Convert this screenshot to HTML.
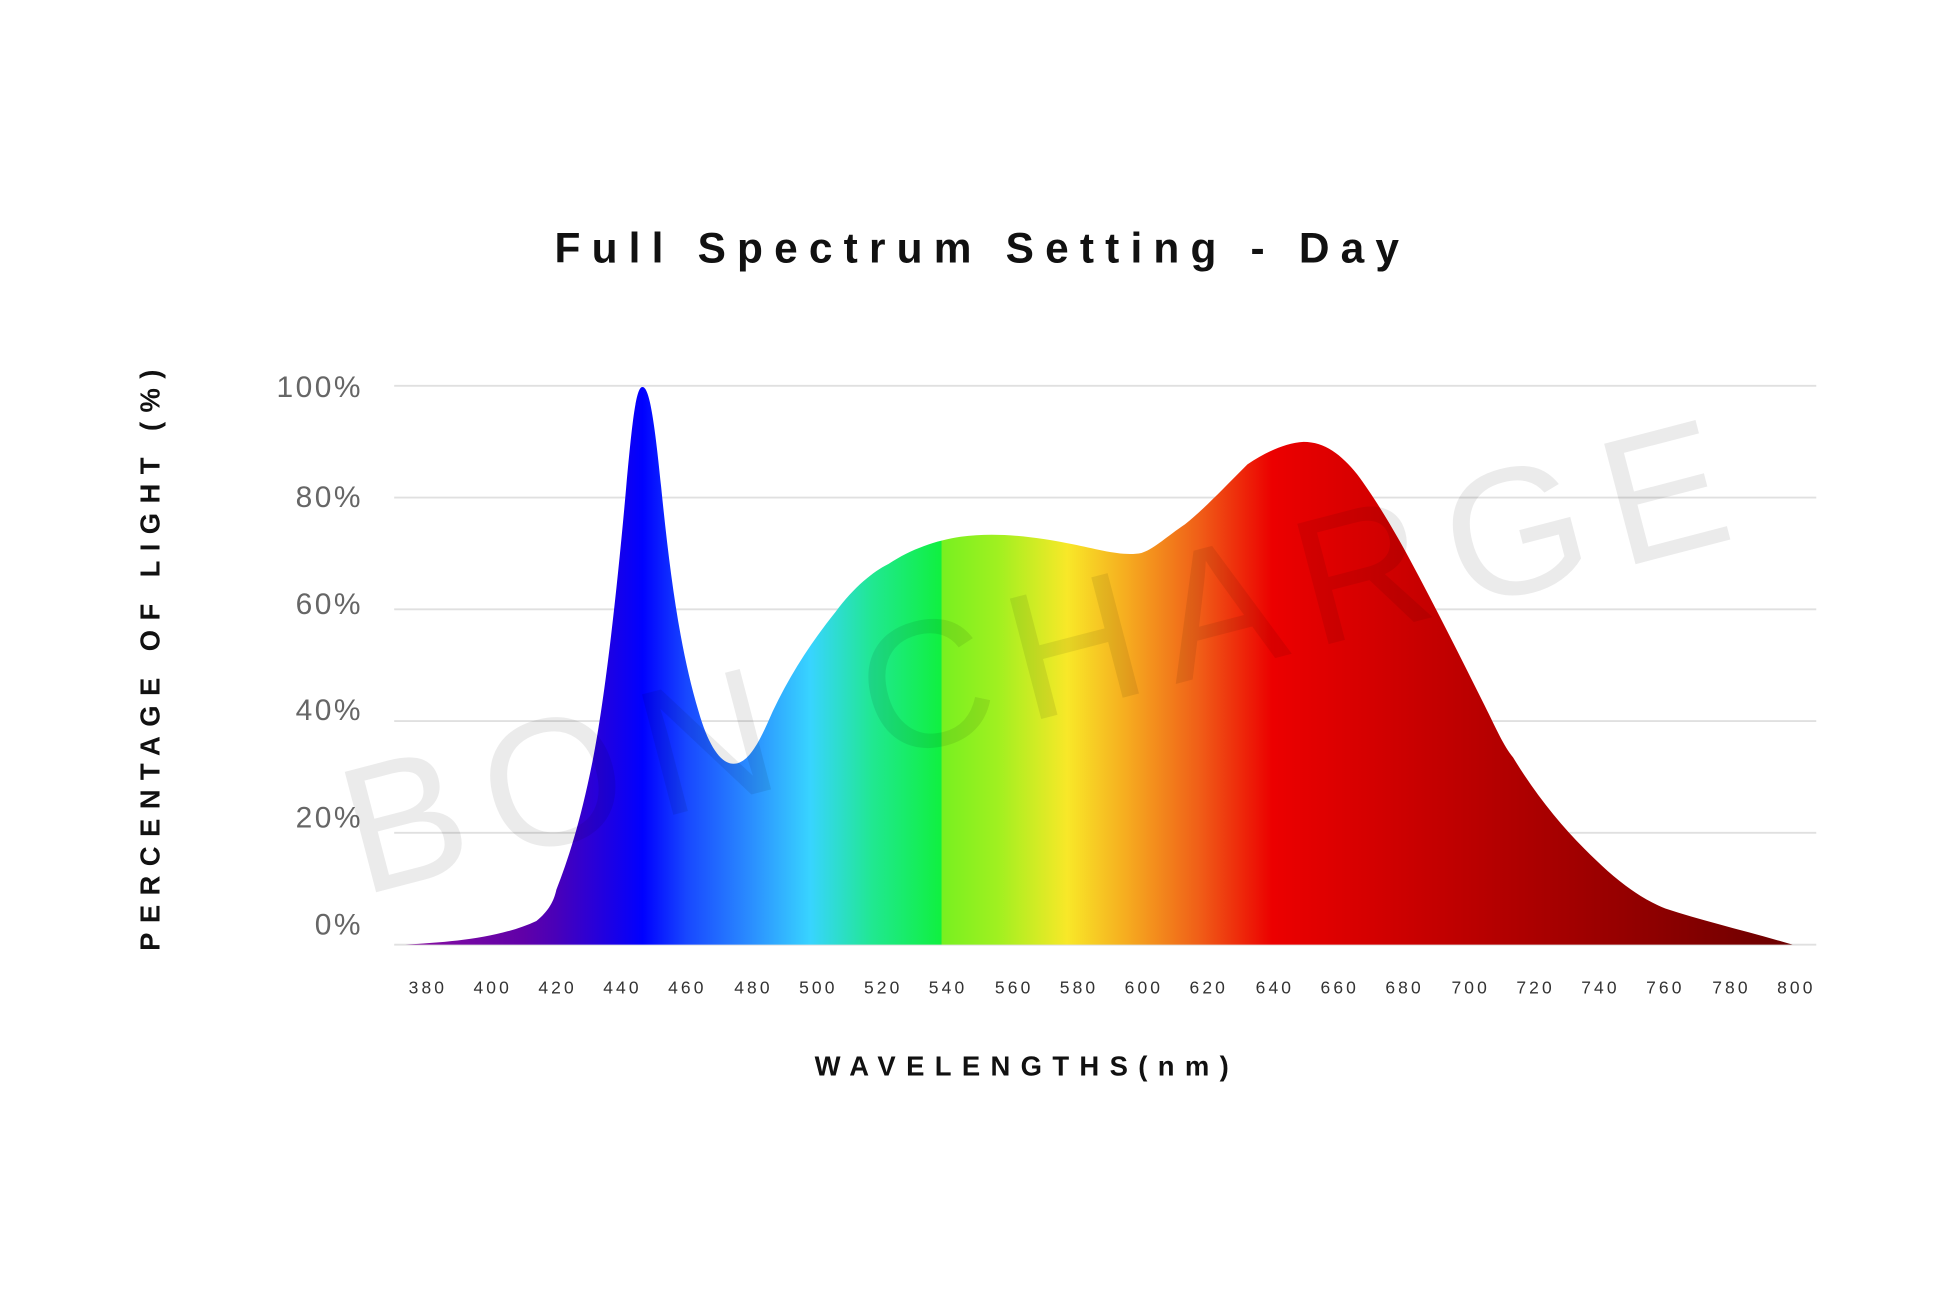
<!DOCTYPE html>
<html><head><meta charset="utf-8"><style>
html,body{margin:0;padding:0;background:#fff;}
svg{display:block;}
</style></head><body>
<svg width="1946" height="1298" viewBox="0 0 1560 1040" xmlns="http://www.w3.org/2000/svg" font-family="'Liberation Sans', sans-serif">
<defs>
<linearGradient id="sp" gradientUnits="userSpaceOnUse" x1="325" y1="0" x2="1437" y2="0">
<stop offset="0" stop-color="#8a10a0"/>
<stop offset="0.085" stop-color="#6000a8"/>
<stop offset="0.108" stop-color="#4a00b8"/>
<stop offset="0.171" stop-color="#0000ff"/>
<stop offset="0.203" stop-color="#1848ff"/>
<stop offset="0.248" stop-color="#2a8cff"/>
<stop offset="0.292" stop-color="#38d4ff"/>
<stop offset="0.337" stop-color="#20e890"/>
<stop offset="0.386" stop-color="#10f040"/>
<stop offset="0.387" stop-color="#78f020"/>
<stop offset="0.427" stop-color="#a0f020"/>
<stop offset="0.477" stop-color="#f8e828"/>
<stop offset="0.517" stop-color="#f6b020"/>
<stop offset="0.571" stop-color="#f06018"/>
<stop offset="0.625" stop-color="#ec0000"/>
<stop offset="0.697" stop-color="#d40000"/>
<stop offset="0.787" stop-color="#b40000"/>
<stop offset="0.877" stop-color="#960000"/>
<stop offset="1" stop-color="#6a0000"/>
</linearGradient>
</defs>
<text x="783" y="210" font-size="34" font-weight="bold" text-anchor="middle" textLength="677" lengthAdjust="spacing" fill="#111">Full Spectrum Setting - Day</text>
<g stroke="#e0e0e0" stroke-width="1.5">
<line x1="316" y1="309" x2="1456" y2="309"/>
<line x1="316" y1="398.6" x2="1456" y2="398.6"/>
<line x1="316" y1="488.2" x2="1456" y2="488.2"/>
<line x1="316" y1="577.8" x2="1456" y2="577.8"/>
<line x1="316" y1="667.4" x2="1456" y2="667.4"/>
<line x1="316" y1="757" x2="1456" y2="757"/>
</g>
<g font-size="24" fill="#666" text-anchor="end" letter-spacing="2">
<text x="291" y="318">100%</text>
<text x="291" y="406">80%</text>
<text x="291" y="492">60%</text>
<text x="291" y="577">40%</text>
<text x="291" y="663">20%</text>
<text x="291" y="749">0%</text>
</g>
<text transform="translate(128,529) rotate(-90)" font-size="22" font-weight="bold" text-anchor="middle" textLength="466" lengthAdjust="spacing" fill="#111">PERCENTAGE OF LIGHT (%)</text>
<path fill="url(#sp)" d="M325,757 C360,755 400,752 430,738 C440,730 444,722 446,713 C455,690 465,660 475,610 C485,560 495,470 502,390 C507,335 510,310 515,310 C520,310 524,330 530,390 C537,460 545,520 560,570 C568,598 578,612 588,612 C598,612 606,600 615,580 C630,545 650,515 670,490 C685,470 700,458 712,452 C730,440 750,433 770,430 C800,426 830,430 860,436 C880,440 900,446 915,443 C925,440 935,430 950,420 C965,408 980,392 1000,372 C1015,362 1030,355 1045,354 C1062,354 1075,364 1088,380 C1100,396 1115,420 1130,448 C1150,485 1170,525 1190,565 C1200,585 1205,597 1213,607 C1230,635 1250,660 1270,680 C1290,700 1310,718 1335,728 C1365,738 1400,746 1437,757 Z"/>
<text transform="translate(290,718) rotate(-14.6)" font-size="145" fill="#000" fill-opacity="0.08" textLength="1140" lengthAdjust="spacing">BON CHARGE</text>
<g font-size="14" fill="#333" text-anchor="middle" letter-spacing="2.5">
<text x="343" y="796">380</text><text x="395" y="796">400</text><text x="447" y="796">420</text><text x="499" y="796">440</text><text x="551" y="796">460</text><text x="604" y="796">480</text><text x="656" y="796">500</text><text x="708" y="796">520</text><text x="760" y="796">540</text><text x="813" y="796">560</text><text x="865" y="796">580</text><text x="917" y="796">600</text><text x="969" y="796">620</text><text x="1022" y="796">640</text><text x="1074" y="796">660</text><text x="1126" y="796">680</text><text x="1179" y="796">700</text><text x="1231" y="796">720</text><text x="1283" y="796">740</text><text x="1335" y="796">760</text><text x="1388" y="796">780</text><text x="1440" y="796">800</text>
</g>
<text x="653" y="862" font-size="22" font-weight="bold" textLength="332" lengthAdjust="spacing" fill="#111">WAVELENGTHS(nm)</text>
</svg>
</body></html>
